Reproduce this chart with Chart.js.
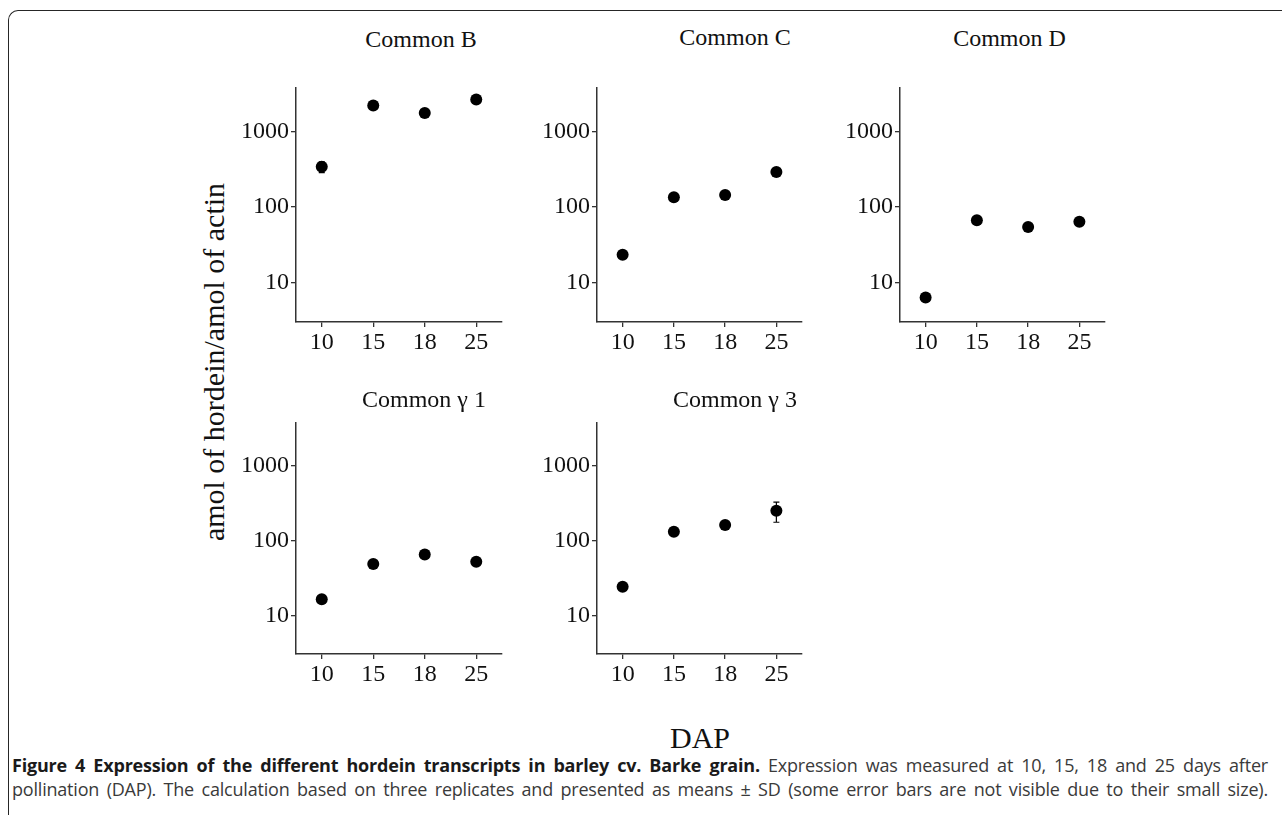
<!DOCTYPE html>
<html>
<head>
<meta charset="utf-8">
<script src="https://cdn.jsdelivr.net/npm/chart.js@4.4.1/dist/chart.umd.min.js"></script>
<style>
    html, body { margin: 0; padding: 0; background: #fff; }
    body { width: 1282px; height: 815px; position: relative; overflow: hidden; }
    .frame {
        position: absolute; left: 8px; top: 10px; width: 1300px; height: 900px;
        border-top: 1.5px solid #262626; border-left: 1.5px solid #262626;
        border-top-left-radius: 10px;
    }
    .label {
        position: absolute; font-family: "Liberation Serif", "Times New Roman", serif;
        color: #111; line-height: 1; white-space: nowrap; transform: translate(-50%, -50%);
    }
    .caption {
        position: absolute; left: 12px; width: 1256px; white-space: nowrap;
        font-family: "Open Sans", sans-serif; font-size: 18px; line-height: 24px; color: #3a3a3a;
        letter-spacing: -0.2px;
    }
    .caption b { color: #1a1a1a; }
</style>
</head>
<body>
<div class="frame"></div>

<div class="label" style="left:213.5px; top:362px; font-size:30px; transform:translate(-50%,-50%) rotate(-90deg);">amol of hordein/amol of actin</div>
<div class="label" style="left:700px; top:738px; font-size:30px;">DAP</div>

<div class="caption" style="top:753px;"><span><b>Figure 4 Expression of the different hordein transcripts in barley cv. Barke grain.</b> Expression was measured at 10, 15, 18 and 25 days after</span></div>
<div class="caption" style="top:777px;"><span>pollination (DAP). The calculation based on three replicates and presented as means ± SD (some error bars are not visible due to their small size).</span></div>

<script>
// data (amol of hordein / amol of actin)
const dapLabels = ["10", "15", "18", "25"];
const panelNames = ["Common B", "Common C", "Common D", "Common γ 1", "Common γ 3"];

const commonB = [340, 2200, 1750, 2630];
const commonC = [23.6, 135, 145, 291];
const commonD = [6.4, 67, 54.5, 64];
const commonG1 = [16.5, 48.7, 65, 52.2];
const commonG3 = [24.1, 131, 162, 251];

// SD (most are hidden behind the dots)
const sdB = [55, 150, 120, 180];
const sdC = [2, 10, 10, 20];
const sdD = [0.5, 5, 4, 5];
const sdG1 = [1.5, 4, 5, 4];
const sdG3 = [2, 10, 12, 75];

const yTicks = [10, 100, 1000];
const yMin = 3.05;
const yMax = 3800;

const axisColor = "#333";
const tickFont = { family: "Liberation Serif", size: 24 };

// panel geometry: plot area of each small chart + where its title sits
const panels = [
    { name: panelNames[0], values: commonB, sd: sdB, left: 296, top: 83, w: 206, h: 239, tx: 421, ty: 38.5 },
    { name: panelNames[1], values: commonC, sd: sdC, left: 597, top: 83, w: 205, h: 239, tx: 735, ty: 37 },
    { name: panelNames[2], values: commonD, sd: sdD, left: 900, top: 83, w: 205, h: 239, tx: 1009.5, ty: 38 },
    { name: panelNames[3], values: commonG1, sd: sdG1, left: 296, top: 418, w: 206, h: 236, tx: 424, ty: 399 },
    { name: panelNames[4], values: commonG3, sd: sdG3, left: 597, top: 418, w: 205, h: 236, tx: 735, ty: 399 }
];

const PAD_L = 90, PAD_R = 12, PAD_T = 12, PAD_B = 45;

const errorBars = {
    id: "errorBars",
    beforeDatasetsDraw(chart, args, opts) {
        const ctx = chart.ctx;
        const y = chart.scales.y;
        const meta = chart.getDatasetMeta(0);
        const vals = chart.data.datasets[0].data;
        ctx.save();
        ctx.strokeStyle = "#000";
        ctx.lineWidth = 1.2;
        meta.data.forEach((pt, i) => {
            const hi = y.getPixelForValue(vals[i] + opts.sd[i]);
            const lo = y.getPixelForValue(vals[i] - opts.sd[i]);
            ctx.beginPath();
            ctx.moveTo(pt.x, hi); ctx.lineTo(pt.x, lo);
            ctx.moveTo(pt.x - 3, hi); ctx.lineTo(pt.x + 3, hi);
            ctx.moveTo(pt.x - 3, lo); ctx.lineTo(pt.x + 3, lo);
            ctx.stroke();
        });
        ctx.restore();
    }
};

function makePanel(p) {
    const canvas = document.createElement("canvas");
    const w = PAD_L + p.w + PAD_R;
    const h = PAD_T + p.h + PAD_B;
    canvas.width = w;
    canvas.height = h;
    canvas.style.cssText = `position:absolute;left:${p.left - PAD_L}px;top:${p.top - PAD_T}px;width:${w}px;height:${h}px;`;
    document.body.appendChild(canvas);

    const title = document.createElement("div");
    title.className = "label";
    title.style.cssText = `left:${p.tx}px;top:${p.ty}px;font-size:24px;`;
    title.textContent = p.name;
    document.body.appendChild(title);

    new Chart(canvas, {
        type: "line",
        data: {
            labels: dapLabels,
            datasets: [{
                data: p.values,
                showLine: false,
                pointRadius: 6,
                pointHoverRadius: 6,
                pointBackgroundColor: "#000",
                pointBorderWidth: 0,
                clip: false
            }]
        },
        options: {
            responsive: false,
            animation: false,
            devicePixelRatio: 1,
            events: [],
            layout: { autoPadding: false, padding: { top: PAD_T, right: PAD_R, left: 0, bottom: 0 } },
            plugins: {
                legend: { display: false },
                tooltip: { enabled: false },
                errorBars: { sd: p.sd }
            },
            scales: {
                x: {
                    type: "category",
                    offset: true,
                    afterFit: s => { s.height = PAD_B; },
                    grid: { drawOnChartArea: false, drawTicks: true, tickLength: 5, color: axisColor, lineWidth: 1.3 },
                    border: { display: true, color: axisColor, width: 1.5 },
                    ticks: { font: tickFont, color: "#111", padding: 1, maxRotation: 0 }
                },
                y: {
                    type: "logarithmic",
                    min: yMin,
                    max: yMax,
                    afterFit: s => { s.width = PAD_L; },
                    afterBuildTicks: s => { s.ticks = yTicks.map(v => ({ value: v })); },
                    grid: { drawOnChartArea: false, drawTicks: true, tickLength: 5, color: axisColor, lineWidth: 1.3 },
                    border: { display: true, color: axisColor, width: 1.5 },
                    ticks: { font: tickFont, color: "#111", padding: 2, callback: v => String(v) }
                }
            }
        },
        plugins: [errorBars]
    });
}

panels.forEach(makePanel);

// justify caption lines to the frame width
document.querySelectorAll(".caption").forEach(line => {
    const span = line.querySelector("span");
    const spaces = (span.textContent.match(/ /g) || []).length;
    const extra = 1256 - span.getBoundingClientRect().width;
    span.style.wordSpacing = (extra / spaces) + "px";
});
</script>
</body>
</html>
